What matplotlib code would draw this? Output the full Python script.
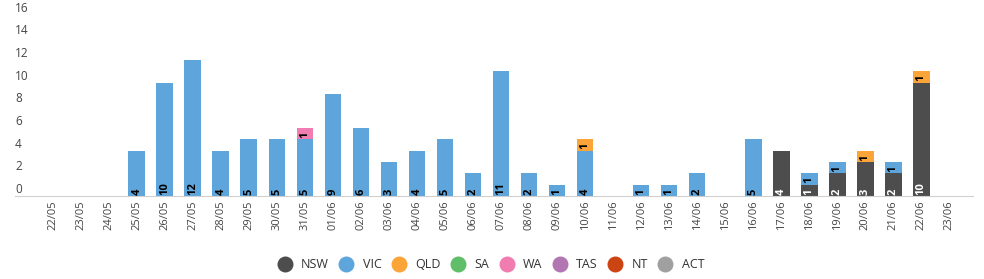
import matplotlib
matplotlib.use("Agg")
import matplotlib.pyplot as plt
from matplotlib.lines import Line2D
import numpy as np

plt.rcParams['font.family'] = ['Open Sans', 'DejaVu Sans']

"""DATA"""
dates = ["22/05", "23/05", "24/05", "25/05", "26/05", "27/05", "28/05", "29/05", "30/05", "31/05",
         "01/06", "02/06", "03/06", "04/06", "05/06", "06/06", "07/06", "08/06", "09/06", "10/06",
         "11/06", "12/06", "13/06", "14/06", "15/06", "16/06", "17/06", "18/06", "19/06", "20/06",
         "21/06", "22/06", "23/06"]
states = ["NSW", "VIC", "QLD", "SA", "WA", "TAS", "NT", "ACT"]

nsw = [0, 0, 0, 0, 0, 0, 0, 0, 0, 0, 0, 0, 0, 0, 0, 0, 0, 0, 0, 0,
       0, 0, 0, 0, 0, 0, 4, 1, 2, 3, 2, 10, 0]
vic = [0, 0, 0, 4, 10, 12, 4, 5, 5, 5, 9, 6, 3, 4, 5, 2, 11, 2, 1, 4,
       0, 1, 1, 2, 0, 5, 0, 1, 1, 0, 1, 0, 0]
qld = [0, 0, 0, 0, 0, 0, 0, 0, 0, 0, 0, 0, 0, 0, 0, 0, 0, 0, 0, 1,
       0, 0, 0, 0, 0, 0, 0, 0, 0, 1, 0, 1, 0]
sa = [0] * 33
wa = [0, 0, 0, 0, 0, 0, 0, 0, 0, 1, 0, 0, 0, 0, 0, 0, 0, 0, 0, 0,
      0, 0, 0, 0, 0, 0, 0, 0, 0, 0, 0, 0, 0]
tas = [0] * 33
nt = [0] * 33
act = [0] * 33

series = [nsw, vic, qld, sa, wa, tas, nt, act]

"""COLORS AND STYLE"""
colors = ["#4D4D4D", "#5DA5DA", "#FAA43A", "#60BD68", "#F17CB0", "#B276B2", "#CC4411", "#A0A0A0"]
label_colors = ["white", "black", "black", "black", "black", "black", "white", "black"]
_txt = "#444444"

fig = plt.figure(figsize=(9.84, 2.79), dpi=100)
ax = fig.add_axes([15 / 984, 83 / 279, 958 / 984, 192.7 / 279])

x = np.arange(len(dates))
bottom = np.zeros(len(dates))
for vals, col, lcol in zip(series, colors, label_colors):
    vals = np.array(vals, dtype=float)
    ax.bar(x, vals, bottom=bottom, width=0.6, color=col, linewidth=0)
    for xi, v, b in zip(x, vals, bottom):
        if v > 0:
            ax.text(xi, b + 0.12, str(int(v)), rotation=90, ha="center", va="bottom",
                    fontsize=8, fontweight="bold", color=lcol)
    bottom += vals

ax.set_xlim(-1.35, 32.85)
ax.set_ylim(0, 17)

ax.set_xticks(x)
ax.set_xticklabels(dates, rotation=90, fontsize=8, color=_txt)
ax.set_yticks(range(0, 17, 2))
ax.set_yticklabels([str(v) for v in range(0, 17, 2)], fontsize=8.5, color=_txt)
for lab in ax.get_yticklabels():
    lab.set_horizontalalignment("left")
    lab.set_verticalalignment("bottom")
ax.tick_params(axis="y", length=0, pad=0)
ax.tick_params(axis="x", length=0, pad=3)

for s in ["top", "right", "left"]:
    ax.spines[s].set_visible(False)
ax.spines["bottom"].set_color("#D0D0D0")
ax.spines["bottom"].set_linewidth(0.8)

handles = [Line2D([0], [0], marker="o", linestyle="none", markersize=11.5,
                  markerfacecolor=c, markeredgewidth=0, label=s)
           for s, c in zip(states, colors)]
leg = fig.legend(handles=handles, loc="center", bbox_to_anchor=(0.5, 14 / 279), ncol=8,
                 frameon=False, fontsize=9, handlelength=0.8, handletextpad=0.9,
                 columnspacing=1.0)
for t in leg.get_texts():
    t.set_color("#333333")

fig.savefig("out.png", dpi=100)
